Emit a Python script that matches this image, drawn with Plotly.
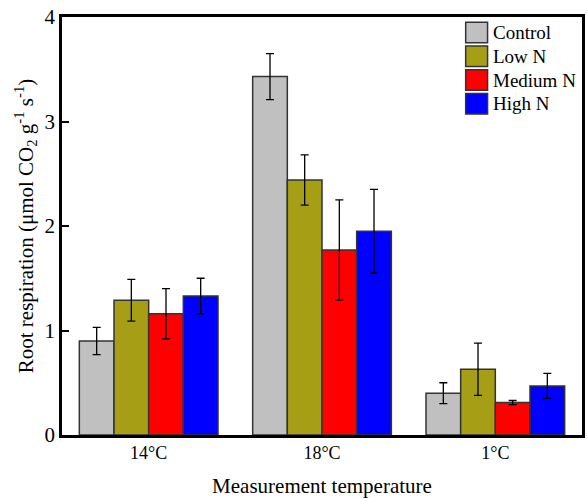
import plotly.graph_objects as go

categories = ["14°C", "18°C", "1°C"]
series_names = ["Control", "Low N", "Medium N", "High N"]
control = [0.90, 3.43, 0.40]
control_err = [0.13, 0.22, 0.10]
low_n = [1.29, 2.44, 0.63]
low_n_err = [0.20, 0.24, 0.25]
medium_n = [1.16, 1.77, 0.31]
medium_n_err = [0.24, 0.48, 0.02]
high_n = [1.33, 1.95, 0.47]
high_n_err = [0.17, 0.40, 0.12]
y_ticks = [0, 1, 2, 3, 4]

colors = ["#C0C0C0", "#A69F16", "#FF0000", "#0000FF"]
values = [control, low_n, medium_n, high_n]
errors = [control_err, low_n_err, medium_n_err, high_n_err]

FONT = "Liberation Serif"

fig = go.Figure()
for name, v, e, c in zip(series_names, values, errors, colors):
    fig.add_trace(go.Bar(
        x=categories, y=v, name=name, showlegend=False,
        marker=dict(color=c, line=dict(color="#333333", width=1.5)),
        error_y=dict(type="data", array=e, color="black", thickness=1.3, width=4),
    ))

# legend drawn in paper coordinates (swatch + label per series)
lg_x0, lg_x1, lg_tx = 0.7763, 0.8184, 0.8241
lg_y0, lg_step, lg_half = 0.9629, 0.0569, 0.0245
for i, (name, c) in enumerate(zip(series_names, colors)):
    yc = lg_y0 - i * lg_step
    fig.add_shape(type="rect", xref="paper", yref="paper",
                  x0=lg_x0, x1=lg_x1, y0=yc - lg_half, y1=yc + lg_half,
                  fillcolor=c, line=dict(color="#333333", width=1.5))
    fig.add_annotation(xref="paper", yref="paper", x=lg_tx, y=yc,
                       xanchor="left", yanchor="middle", showarrow=False,
                       text=name, font=dict(size=19, family=FONT, color="black"))

fig.update_layout(
    width=588, height=498,
    margin=dict(l=62, r=3, t=17, b=63),
    plot_bgcolor="white", paper_bgcolor="white",
    barmode="group", bargap=0.2, bargroupgap=0,
    font=dict(family=FONT, color="black", size=18),
    showlegend=False,
    xaxis=dict(
        type="category", range=[-0.5, 2.5],
        showline=True, linecolor="black", linewidth=2.5, mirror=True,
        ticks="", showgrid=False, tickfont=dict(size=18, family=FONT),
        title=dict(text="Measurement temperature", font=dict(size=21, family=FONT), standoff=16),
    ),
    yaxis=dict(
        range=[0, 4], tickvals=y_ticks, ticklabeloverflow="allow",
        showline=True, linecolor="black", linewidth=2.5, mirror=True,
        ticks="inside", ticklen=7, tickwidth=2, tickcolor="black",
        showgrid=False, zeroline=False, tickfont=dict(size=21, family=FONT),
        title=dict(text="Root respiration (μmol CO<sub>2</sub> g<sup>-1</sup> s<sup>-1</sup>)",
                   font=dict(size=21, family=FONT), standoff=6),
    ),
)

fig.write_html("out.html", config={"displayModeBar": False},
               post_script="document.body.style.margin='0';document.body.style.overflow='hidden';")
